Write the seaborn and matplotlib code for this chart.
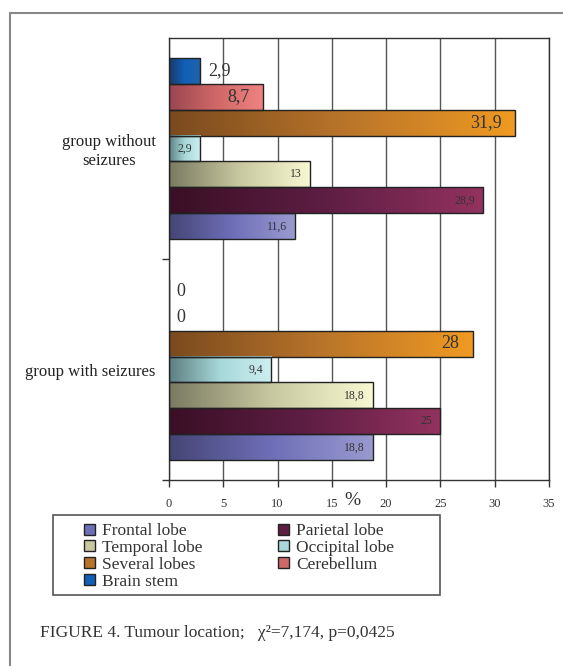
import numpy as np
import pandas as pd
import seaborn as sns
import matplotlib.pyplot as plt
from matplotlib.colors import LinearSegmentedColormap
from matplotlib.patches import Patch, Rectangle
from matplotlib.lines import Line2D

# data
groups = ["group without\nseizures", "group with seizures"]
locations = ["Frontal lobe", "Parietal lobe", "Temporal lobe", "Occipital lobe",
             "Several lobes", "Cerebellum", "Brain stem"]
without_seizures = [11.6, 28.9, 13, 2.9, 31.9, 8.7, 2.9]
with_seizures = [18.8, 25, 18.8, 9.4, 28, 0, 0]
x_ticks = [0, 5, 10, 15, 20, 25, 30, 35]

df = pd.DataFrame({
    "group": np.repeat(groups, len(locations)),
    "location": locations * 2,
    "value": without_seizures + with_seizures,
})

# gradient stops per series (dark -> light)
gradients = {
    "Frontal lobe": ["#454575", "#6e6eb8", "#9a9ad0"],
    "Parietal lobe": ["#3a0f25", "#5e1e44", "#93325f"],
    "Temporal lobe": ["#7a7a62", "#c8c8a0", "#f8f8d2"],
    "Occipital lobe": ["#5d7f80", "#a8d8da", "#cdeff0"],
    "Several lobes": ["#7a4a1e", "#b8742a", "#f09a22"],
    "Cerebellum": ["#9a4650", "#d06868", "#f08282"],
    "Brain stem": ["#1a3a6a", "#1060b8", "#2262a8"],
}
big_labels = ["Several lobes", "Cerebellum", "Brain stem"]
draw_order = locations[::-1]

sns.set_style("white")
plt.rcParams["font.family"] = ["Liberation Serif", "DejaVu Serif"]

fig = plt.figure(figsize=(5.63, 6.66), dpi=100)
ax = fig.add_axes([169 / 563, 1 - 480 / 666, 380 / 563, 442 / 666])

sns.barplot(data=df, x="value", y="group", hue="location", order=groups,
            hue_order=draw_order, orient="h", width=0.823, saturation=1,
            palette={k: v[1] for k, v in gradients.items()},
            edgecolor="#222222", linewidth=1, legend=False, ax=ax)

# gradient fills under each bar outline, plus value labels
for loc, cont in zip(draw_order, ax.containers):
    cmap = LinearSegmentedColormap.from_list(loc, gradients[loc])
    for bar in cont:
        x0, y0 = bar.get_xy()
        w, h = bar.get_width(), bar.get_height()
        yc = y0 + h / 2
        txt = f"{w:g}".replace(".", ",")
        if w > 0:
            bar.set_facecolor("none")
            bar.set_zorder(3)
            ax.imshow(np.linspace(0, 1, 256)[None, :], cmap=cmap,
                      extent=(x0, x0 + w, y0 + h, y0), aspect="auto",
                      zorder=2.5, interpolation="bilinear")
        big = loc in big_labels
        fs = 13 if big else 8.5
        if w == 0:
            ax.annotate(txt, (0, yc), xytext=(7, 0), textcoords="offset pixels",
                        ha="left", va="center", fontsize=13, color="#333333")
        elif big and w < 4:
            ax.annotate(txt, (w, yc), xytext=(8, 0), textcoords="offset pixels",
                        ha="left", va="center", fontsize=fs, color="#333333")
        else:
            ax.annotate(txt, (w, yc), xytext=(-8 if not big else -14, 0),
                        textcoords="offset pixels", ha="right", va="center",
                        fontsize=fs, color="#333333", zorder=4)

ax.set_xlim(0, 35)
ax.set_ylim(1.5, -0.5)
ax.set_xticks(x_ticks)
ax.set_xticklabels([str(t) for t in x_ticks])
ax.grid(axis="x", color="#555555", lw=1)
ax.set_axisbelow(True)
ax.set_ylabel("")
ax.set_xlabel("%", fontsize=14, color="#333333")
ax.xaxis.set_label_coords((352 - 169) / 380, -0.028)
ax.xaxis.label.set_va("top")

ax.tick_params(axis="x", bottom=True, length=5, width=1, pad=8,
               labelsize=9, color="#333333", labelcolor="#333333")
ax.tick_params(axis="y", which="major", left=False, pad=6, labelsize=12,
               labelcolor="#222222")
ax.set_yticks([0.5, 1.5], minor=True)
ax.tick_params(axis="y", which="minor", left=True, length=5, width=1,
               color="#333333")
for lab in ax.get_yticklabels():
    lab.set_multialignment("center")
for sp in ax.spines.values():
    sp.set_visible(True)
    sp.set_color("#333333")
    sp.set_linewidth(1)

# legend (row-wise order as in the reference)
handles = [Patch(facecolor=gradients[l][1], edgecolor="#222222", label=l)
           for l in locations]
col1 = [handles[i] for i in (0, 2, 4, 6)]
col2 = [handles[i] for i in (1, 3, 5)]
fig.legend(handles=col1 + col2, ncol=2, loc="upper left",
           bbox_to_anchor=(72 / 563, 1 - 511 / 666), frameon=False,
           fontsize=12.5, handlelength=0.6, handleheight=0.6,
           handletextpad=0.4, labelspacing=0.05, columnspacing=4.4,
           borderpad=0.2, labelcolor="#333333")
fig.add_artist(Rectangle((53 / 563, 1 - 595 / 666), 387 / 563, 80 / 666,
                         transform=fig.transFigure, fill=False,
                         edgecolor="#555555", lw=1.2))

# outer frame
fig.add_artist(Line2D([10 / 563, 10 / 563], [0, 1 - 13 / 666],
                      transform=fig.transFigure, color="#888888", lw=1.5))
fig.add_artist(Line2D([10 / 563, 1], [1 - 13 / 666, 1 - 13 / 666],
                      transform=fig.transFigure, color="#888888", lw=1.5))

fig.text(40 / 563, 1 - 633 / 666,
         "FIGURE 4. Tumour location;   χ²=7,174, p=0,0425",
         fontsize=12.5, color="#333333", va="center", ha="left")

fig.savefig("out.png", dpi=100)
